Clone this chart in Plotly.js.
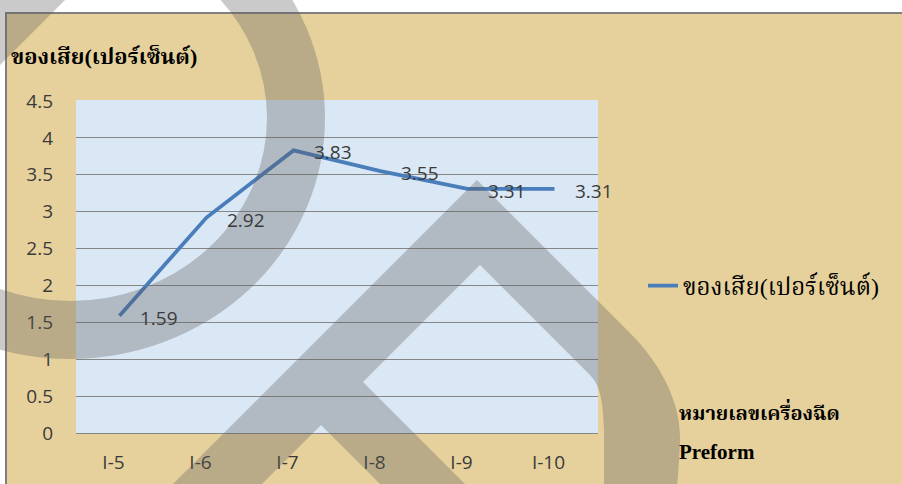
<!DOCTYPE html>
<html>
<head>
<meta charset="utf-8">
<script src="https://cdn.plot.ly/plotly-3.0.1.min.js"></script>
<style>html,body{margin:0;padding:0;background:#fff;}#chart{width:902px;height:484px;}</style>
</head>
<body>
<div id="chart"></div>
<script>
// ---- data ----
const categories = ['I-5', 'I-6', 'I-7', 'I-8', 'I-9', 'I-10'];
const defectPercent = [1.59, 2.92, 3.83, 3.55, 3.31, 3.31];
const seriesName = 'ของเสีย(เปอร์เซ็นต์)';
const yTitle = 'ของเสีย(เปอร์เซ็นต์)';
const xTitleThai = 'หมายเลขเครื่องฉีด';
const xTitleEn = 'Preform';

// ---- geometry helpers (pixel -> paper) ----
const W = 902, H = 484, L = 76, R = 598, T = 101, B = 433;
const px = x => (x - L) / (R - L);
const py = y => (B - y) / (B - T);
const P = (x, y) => px(x).toFixed(5) + ',' + py(y).toFixed(5);

const numFont = {family: 'Open Sans, Lato, sans-serif', size: 19, color: '#3a3a3a'};
const thaiSerif = 'Liberation Serif, Noto Serif Thai, Noto Sans Thai, serif';
const wm = 'rgba(90,90,90,0.32)';

const trace = {
  type: 'scatter', mode: 'lines',
  x: categories, y: defectPercent, name: seriesName,
  line: {color: '#4a7ebb', width: 3.8},
  hoverinfo: 'x+y'
};

const labelAnns = categories.map((c, i) => ({
  x: c, y: defectPercent[i], xref: 'x', yref: 'y',
  text: defectPercent[i].toFixed(2), showarrow: false,
  xanchor: 'left', yanchor: 'middle', xshift: 18, yshift: -2,
  font: numFont
}));

const chevron = 'M' + P(137, 520) + ' L' + P(477, 180) + ' L' + P(630, 333) +
  ' C' + P(658, 361) + ' ' + P(681, 400) + ' ' + P(680, 440) +
  ' C' + P(679, 470) + ' ' + P(676, 495) + ' ' + P(675, 520) +
  ' L' + P(604, 520) + ' L' + P(604, 430) +
  ' C' + P(603, 400) + ' ' + P(600, 385) + ' ' + P(590, 375) +
  ' L' + P(480, 265) + ' L' + P(363, 382) + ' L' + P(501, 520) +
  ' L' + P(416, 520) + ' L' + P(321, 425) + ' L' + P(226, 520) + ' Z';

const ringCx = 70, ringCy = 118, ringRx = 226, ringRy = 212;

const shapes = [
  // hide the grid line on the top edge of the plot area
  {type: 'line', xref: 'paper', yref: 'paper', x0: 0, x1: 1, y0: 1, y1: 1, line: {color: '#dae7f5', width: 2}, layer: 'above'},
  // white outside the chart frame
  {type: 'rect', xref: 'paper', yref: 'paper', x0: px(-10), x1: px(912), y0: py(12), y1: py(-10), fillcolor: '#ffffff', line: {width: 0}, layer: 'above'},
  {type: 'rect', xref: 'paper', yref: 'paper', x0: px(-10), x1: px(5), y0: py(495), y1: py(-10), fillcolor: '#ffffff', line: {width: 0}, layer: 'above'},
  // chart frame
  {type: 'rect', xref: 'paper', yref: 'paper', x0: px(6), x1: px(910), y0: py(495), y1: py(13), fillcolor: 'rgba(0,0,0,0)', line: {color: '#7f7f7f', width: 2}, layer: 'above'},
  // watermark
  {type: 'circle', xref: 'paper', yref: 'paper', x0: px(ringCx - ringRx), x1: px(ringCx + ringRx), y0: py(ringCy + ringRy), y1: py(ringCy - ringRy), fillcolor: 'rgba(0,0,0,0)', line: {color: wm, width: 58}, layer: 'above'},
  {type: 'path', xref: 'paper', yref: 'paper', path: 'M' + P(-5, -5) + ' L' + P(70, -5) + ' L' + P(-5, 70) + ' Z', fillcolor: wm, line: {width: 0}, layer: 'above'},
  {type: 'path', xref: 'paper', yref: 'paper', path: chevron, fillcolor: wm, line: {width: 0}, layer: 'above'}
];

const annotations = labelAnns.concat([
  {xref: 'paper', yref: 'paper', x: px(9), y: py(57), xanchor: 'left', yanchor: 'middle', showarrow: false,
   text: '<b>' + yTitle + '</b>', font: {family: thaiSerif, size: 22, color: '#000'}},
  {xref: 'paper', yref: 'paper', x: px(677), y: py(411), xanchor: 'left', yanchor: 'middle', showarrow: false,
   text: '<b>' + xTitleThai + '</b>', font: {family: thaiSerif, size: 20, color: '#000'}},
  {xref: 'paper', yref: 'paper', x: px(677), y: py(452), xanchor: 'left', yanchor: 'middle', showarrow: false,
   text: '<b>' + xTitleEn + '</b>', font: {family: 'Liberation Serif, serif', size: 21, color: '#000'}}
]);

const layout = {
  width: W, height: H, autosize: false,
  margin: {l: L, r: W - R, t: T, b: H - B, pad: 0},
  paper_bgcolor: '#e6d19c',
  plot_bgcolor: '#dae7f5',
  showlegend: true,
  legend: {x: px(643), y: py(286), xanchor: 'left', yanchor: 'middle', bgcolor: 'rgba(0,0,0,0)',
           font: {family: thaiSerif, size: 24, color: '#000'}},
  xaxis: {type: 'category', range: [-0.5, 5.5], showgrid: false, zeroline: false,
          showline: false, ticks: '', tickfont: numFont, ticklabelstandoff: 16, ticklabelshift: -6, fixedrange: true},
  yaxis: {range: [0, 4.5], dtick: 0.5, tick0: 0, showgrid: true, gridcolor: '#868686', gridwidth: 1,
          zeroline: true, zerolinecolor: '#868686', zerolinewidth: 1, showline: false, ticks: '',
          tickfont: numFont, ticklabelstandoff: 22, fixedrange: true},
  shapes: shapes,
  annotations: annotations
};

Plotly.newPlot('chart', [trace], layout, {displayModeBar: false, staticPlot: true});
</script>
</body>
</html>
